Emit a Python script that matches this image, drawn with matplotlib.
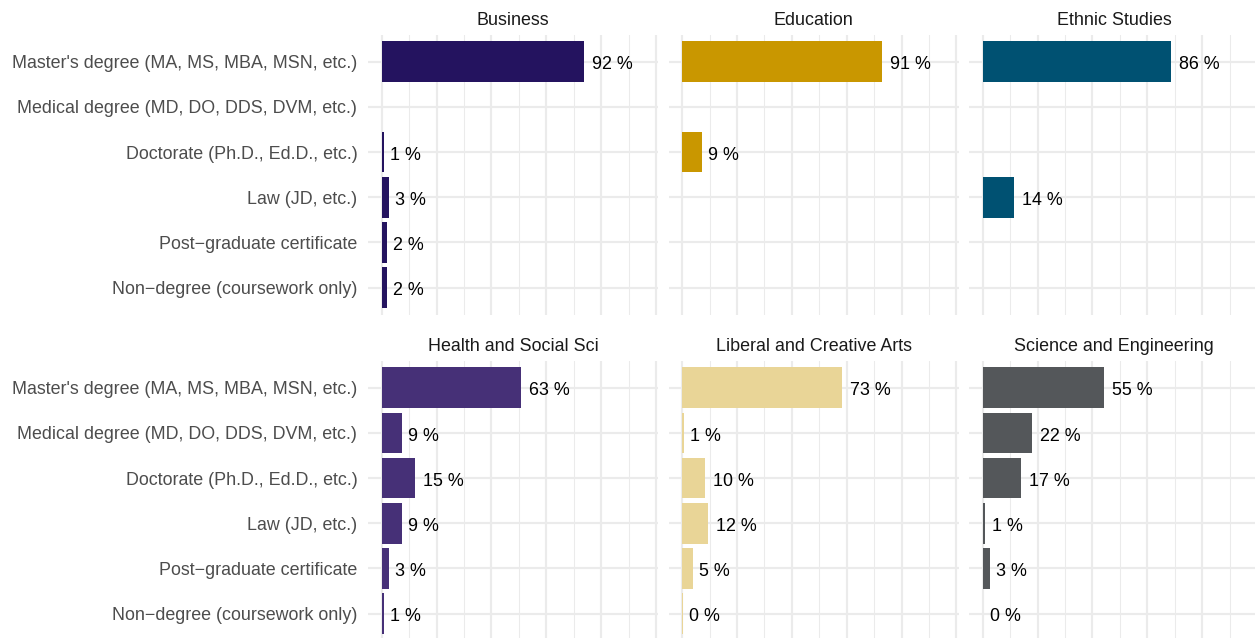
import matplotlib.pyplot as plt
import numpy as np

plt.rcParams["font.family"] = ["Liberation Sans", "DejaVu Sans"]

degrees = [
    "Master's degree (MA, MS, MBA, MSN, etc.)",
    "Medical degree (MD, DO, DDS, DVM, etc.)",
    "Doctorate (Ph.D., Ed.D., etc.)",
    "Law (JD, etc.)",
    "Post\u2212graduate certificate",
    "Non\u2212degree (coursework only)",
]

colleges = [
    "Business",
    "Education",
    "Ethnic Studies",
    "Health and Social Sci",
    "Liberal and Creative Arts",
    "Science and Engineering",
]

# share of students per degree type (None = no response in that college)
business = [92.0, None, 1.0, 3.4, 2.4, 2.2]
education = [91.0, None, 9.0, None, None, None]
ethnic_studies = [85.8, None, None, 14.2, None, None]
health_social = [63.4, 9.1, 15.3, 9.4, 3.4, 1.0]
liberal_arts = [72.9, 0.8, 10.3, 11.6, 4.9, 0.3]
science_eng = [55.4, 22.4, 17.4, 1.2, 3.4, 0.3]

values = [business, education, ethnic_studies, health_social, liberal_arts, science_eng]
colors = ["#24135F", "#C99700", "#005172", "#463077", "#E9D597", "#54575A"]

W, H = 1255, 638
fig = plt.figure(figsize=(W / 100, H / 100), dpi=100)

col_left = [368, 668.5, 969]
row_top = [34.6, 360.6]
panel_w, panel_h = 290, 280
px_per_pct = 2.194
x_min = -13.7 / px_per_pct
x_max = (panel_w - 13.7) / px_per_pct

grid_col = "#EBEBEB"
labels_drawn = []

for k, (college, vals, color) in enumerate(zip(colleges, values, colors)):
    r, c = divmod(k, 3)
    left = col_left[c] / W
    bottom = (H - row_top[r] - panel_h) / H
    ax = fig.add_axes([left, bottom, panel_w / W, panel_h / H])

    ax.set_xlim(x_min, x_max)
    ax.set_ylim(5.6, -0.6)
    for s in ax.spines.values():
        s.set_visible(False)

    ax.set_xticks(np.arange(0, 126, 25))
    ax.set_xticks(np.arange(12.5, 126, 25), minor=True)
    ax.set_yticks(range(len(degrees)))
    ax.grid(True, which="major", color=grid_col, lw=1.56, zorder=0)
    ax.grid(True, which="minor", axis="x", color=grid_col, lw=0.78, zorder=0)
    ax.set_axisbelow(True)
    ax.tick_params(which="both", length=0, labelbottom=False)
    if c == 0:
        ax.set_yticklabels(degrees, fontsize=12.9, color="#4D4D4D")
        ax.tick_params(axis="y", pad=7.7)
    else:
        ax.tick_params(axis="y", labelleft=False)

    ax.set_title(college, fontsize=12.9, color="#1A1A1A", pad=7)

    for i, v in enumerate(vals):
        if v is None:
            continue
        ax.barh(i, v, height=0.9, color=color, zorder=2)
        t = ax.annotate(
            f"{round(v)} %",
            xy=(v, i),
            xytext=(0, 0),
            textcoords="offset pixels",
            ha="left",
            va="center_baseline",
            fontsize=12.9,
            color="black",
        )
        labels_drawn.append(t)

# ggplot-style hjust = -0.2: shift each label by a fifth of its own width
fig.canvas.draw()
renderer = fig.canvas.get_renderer()
for t in labels_drawn:
    w = t.get_window_extent(renderer).width
    t.xyann = (0.2 * w, -1.2)

fig.savefig("out.png", dpi=100)
